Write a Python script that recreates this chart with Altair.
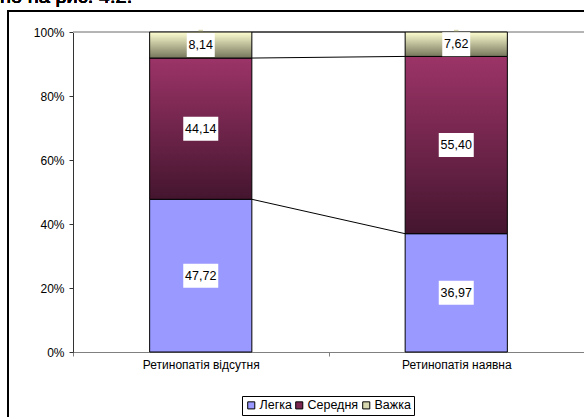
import altair as alt
import pandas as pd

# Severity distribution (%) by retinopathy status
categories = ["Ретинопатія відсутня", "Ретинопатія наявна"]
series = ["Легка", "Середня", "Важка"]
legka = [47.72, 36.97]
serednia = [44.14, 55.40]
vazhka = [8.14, 7.62]
y_ticks = [0, 20, 40, 60, 80, 100]
caption = "но на рис. 4.2."

swatch_colors = ["#9999ff", "#7a2852", "#d8d8b0"]
FONT = "Liberation Sans"

rows = []
for i, cat in enumerate(categories):
    for k, (name, vals) in enumerate(zip(series, [legka, serednia, vazhka])):
        rows.append({"cat": cat, "series": name, "order": k, "value": vals[i]})
df = pd.DataFrame(rows)

x_scale = alt.Scale(domain=categories, paddingInner=0, paddingOuter=0)
y_scale = alt.Scale(domain=[0, 100], nice=False)

base = alt.Chart(df).transform_stack(
    stack="value",
    groupby=["cat"],
    as_=["y0", "y1"],
    sort=[alt.SortField("order", order="ascending")],
)

x_enc = alt.X(
    "cat:N",
    scale=x_scale,
    sort=categories,
    title=None,
    axis=alt.Axis(
        labelAngle=0,
        labelAlign="center",
        bandPosition=0.5,
        labelFontSize=12,
        labelColor="#000000",
        labelFont=FONT,
        labelPadding=8,
        tickBand="extent",
        tickSize=4,
        tickColor="#808080",
        domainColor="#808080",
        grid=False,
    ),
)
y_enc = alt.Y(
    "y0:Q",
    scale=y_scale,
    stack=None,
    title=None,
    axis=alt.Axis(
        values=y_ticks,
        labelExpr="datum.value + '%'",
        labelFontSize=12,
        labelColor="#000000",
        labelFont=FONT,
        labelPadding=5,
        tickSize=4,
        tickColor="#333333",
        domainColor="#333333",
        grid=False,
    ),
)

# light line closing the plot at 100%
top_line = alt.Chart(df).mark_rule(color="#b4b4b4", strokeWidth=1.2).encode(
    y=alt.YDatum(100, scale=y_scale)
)

# hidden squares carrying the colour legend (covered by the bars)
legend_pts = base.mark_square(size=20, opacity=1).encode(
    x=alt.X("cat:N", scale=x_scale, sort=categories),
    y=alt.Y("y1:Q", scale=y_scale, stack=None),
    color=alt.Color(
        "series:N",
        sort=series,
        scale=alt.Scale(domain=series, range=swatch_colors),
        legend=alt.Legend(
            title=None,
            orient="none",
            direction="horizontal",
            legendX=169,
            legendY=364,
            padding=3,
            strokeColor="#000000",
            fillColor="#ffffff",
            symbolType="square",
            symbolSize=50,
            symbolStrokeColor="#000000",
            symbolStrokeWidth=1,
            symbolOpacity=1,
            labelFontSize=12.5,
            labelFont=FONT,
            labelColor="#000000",
            labelOffset=2,
            columnPadding=1,
        ),
    ),
)


def grad(top, bottom):
    return alt.Gradient(
        gradient="linear",
        stops=[
            alt.GradientStop(color=top, offset=0),
            alt.GradientStop(color=bottom, offset=1),
        ],
        x1=0, x2=0, y1=0, y2=1,
    )


fills = {
    "Легка": "#9999ff",
    "Середня": grad("#9c3468", "#44152e"),
    "Важка": grad("#ffffd2", "#76765c"),
}

bar_layers = []
for name in series:
    bar_layers.append(
        base.transform_filter(alt.datum.series == name)
        .mark_bar(
            fill=fills[name],
            stroke="#000000",
            strokeWidth=1,
            width=alt.RelativeBandSize(0.4),
        )
        .encode(x=x_enc, y=y_enc, y2="y1:Q")
    )

# series lines joining the top of each segment between the two bars
series_lines = (
    base.transform_pivot("cat", value="y1", groupby=["series"])
    .mark_rule(color="#000000", strokeWidth=1)
    .encode(
        x=alt.XDatum(categories[0], type="nominal", bandPosition=0.7, scale=x_scale),
        x2=alt.X2Datum(categories[1], bandPosition=0.3),
        y=alt.Y(field=categories[0], type="quantitative", scale=y_scale, stack=None),
        y2=alt.Y2(field=categories[1]),
    )
)

labelled = base.transform_calculate(
    mid="(datum.y0 + datum.y1) / 2",
    label="replace(format(datum.value, '.2f'), '.', ',')",
).transform_calculate(
    box="'M' + (-length(datum.label) * 3.5) + ',-12H' + (length(datum.label) * 3.5)"
    " + 'V12H' + (-length(datum.label) * 3.5) + 'Z'"
)

label_boxes = labelled.mark_point(filled=True, fill="#ffffff", opacity=1, size=4, strokeWidth=0).encode(
    x=alt.X("cat:N", scale=x_scale, sort=categories),
    y=alt.Y("mid:Q", scale=y_scale, stack=None),
    shape=alt.Shape("box:N", scale=None),
)

label_text = labelled.mark_text(
    fontSize=12.5, font=FONT, color="#000000", baseline="middle", align="center"
).encode(
    x=alt.X("cat:N", scale=x_scale, sort=categories),
    y=alt.Y("mid:Q", scale=y_scale, stack=None),
    text="label:N",
)

frame = alt.Chart(df).mark_rect(fillOpacity=0, stroke="#000000", strokeWidth=1.3).encode(
    x=alt.value(-65), x2=alt.value(700), y=alt.value(-21), y2=alt.value(500)
)

caption_text = alt.Chart(df).mark_text(
    align="left", baseline="alphabetic", fontSize=20, font=FONT, color="#000000"
).encode(x=alt.value(-73), y=alt.value(-29), text=alt.value(caption))

chart = alt.layer(
    top_line,
    legend_pts,
    *bar_layers,
    series_lines,
    label_boxes,
    label_text,
    frame,
    caption_text,
).properties(
    width=511,
    height=320,
    padding={"left": 73, "top": 32, "right": 0, "bottom": 65},
    autosize=alt.AutoSizeParams(type="none"),
).configure_view(strokeWidth=0).configure(background="#ffffff")

chart.save("out.html", embed_options={"renderer": "svg", "actions": False})
